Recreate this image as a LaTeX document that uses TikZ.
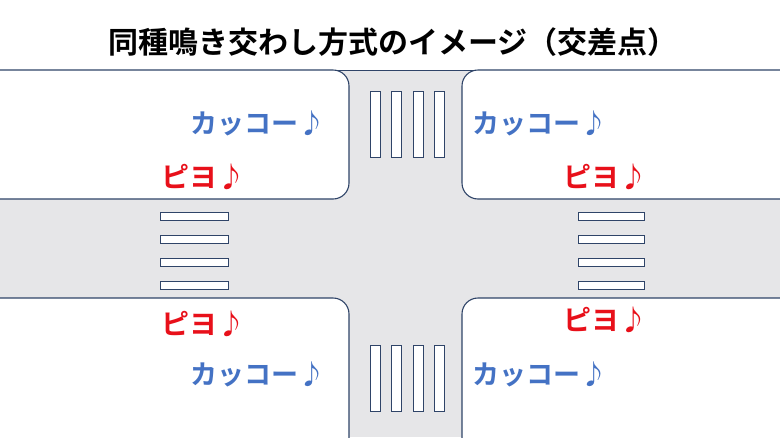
\documentclass[tikz,border=0pt]{standalone}
\usepackage{fontspec}
\newfontfamily\cjk{Noto Sans CJK JP}[BoldFont={Noto Sans CJK JP Bold}]
\definecolor{road}{HTML}{E6E6E8}
\definecolor{edge}{HTML}{2F4468}
\definecolor{kblue}{HTML}{4472C4}
\definecolor{pred}{HTML}{E8101A}
\tikzset{block/.style={draw=edge,line width=1.1pt,fill=white,rounded corners=16pt},
 stripe/.style={draw=edge,line width=1pt,fill=white},
 kakko/.style={text=kblue,font=\cjk\bfseries\fontsize{27}{27}\selectfont},
 piyo/.style={text=pred,font=\cjk\bfseries\fontsize{28}{28}\selectfont}}
\begin{document}
\begin{tikzpicture}[x=1pt,y=-1pt]
\useasboundingbox (0,0) rectangle (780,437);
\fill[white] (0,0) rectangle (780,437);
\fill[road] (0,70) rectangle (780,437);
\draw[edge,line width=1pt] (0,70) -- (780,70);
\draw[block] (-30,70) rectangle (349,199);
\draw[block] (462,70) rectangle (810,199);
\draw[block] (-30,298) rectangle (349,470);
\draw[block] (462,298) rectangle (810,470);
\foreach \x in {370,391,413,434}{
  \draw[stripe] (\x,91) rectangle ++(10,66);
  \draw[stripe] (\x,345) rectangle ++(10,66);}
\foreach \y in {212,235,258,281}{
  \draw[stripe] (160,\y) rectangle ++(68,8);
  \draw[stripe] (578,\y) rectangle ++(66,8);}
\node[font=\cjk\bfseries\fontsize{30}{30}\selectfont] (title) at (393,42) {同種鳴き交わし方式のイメージ（交差点）};
\node[kakko] (k1) at (258,123) {カッコー♪};
\node[kakko] (k2) at (540,123) {カッコー♪};
\node[kakko] (k3) at (258,374) {カッコー♪};
\node[kakko] (k4) at (540,374) {カッコー♪};
\node[piyo] (p1) at (203,177) {ピヨ♪};
\node[piyo] (p2) at (605,177) {ピヨ♪};
\node[piyo] (p3) at (203,324) {ピヨ♪};
\node[piyo] (p4) at (605,320) {ピヨ♪};
\end{tikzpicture}
\end{document}
